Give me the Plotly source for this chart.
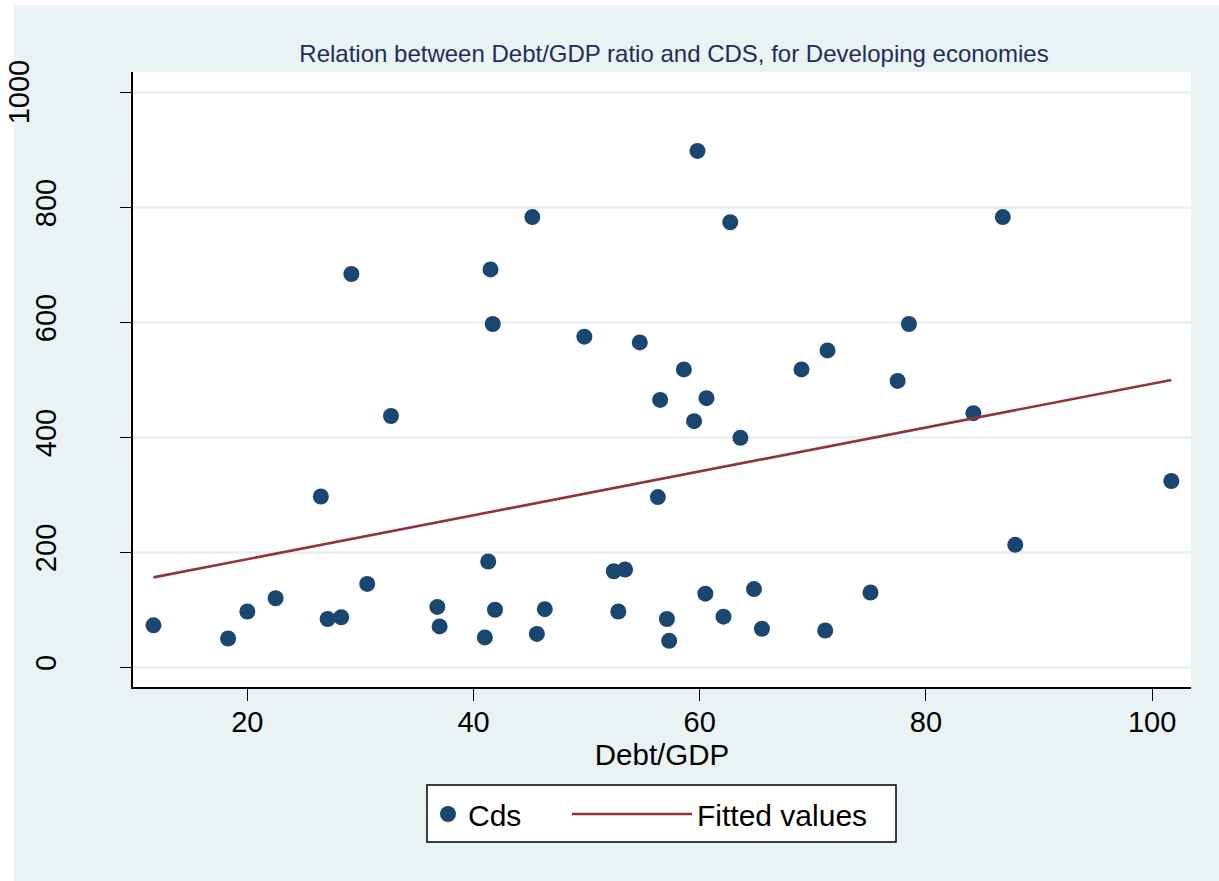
import numpy as np
import plotly.graph_objects as go

# Debt/GDP ratio (%) and CDS spread for developing economies
debt_gdp = [11.7, 18.3, 20.0, 22.5, 26.5, 27.1, 28.3, 29.2, 30.6, 32.7,
            36.8, 37.0, 41.0, 41.3, 41.5, 41.7, 41.9, 45.2, 45.6, 46.3,
            49.8, 52.4, 52.8, 53.4, 54.7, 56.5, 56.3, 57.1, 57.3, 58.6,
            59.5, 59.8, 60.6, 60.5, 62.1, 62.7, 63.6, 64.8, 65.5, 69.0,
            71.1, 71.3, 75.1, 77.5, 78.5, 84.2, 86.8, 87.9, 101.7]
cds = [73, 50, 97, 120, 297, 84, 87, 684, 145, 437,
       105, 71, 52, 184, 692, 597, 100, 783, 58, 101,
       575, 167, 97, 170, 565, 465, 296, 84, 46, 518,
       428, 898, 468, 128, 88, 774, 399, 136, 67, 518,
       64, 551, 130, 498, 597, 442, 783, 213, 324]

x_ticks = [20, 40, 60, 80, 100]
y_ticks = [0, 200, 400, 600, 800, 1000]

# Linear fit (OLS) of CDS on Debt/GDP
slope, intercept = np.polyfit(debt_gdp, cds, 1)
fit_x = [min(debt_gdp), max(debt_gdp)]
fit_y = [intercept + slope * v for v in fit_x]

BG = "#EAF2F3"
NAVY = "#1A476F"
MAROON = "#90353B"
FONT = "Liberation Sans, Arial, sans-serif"

W, H = 1219, 881
ML, MR, MT, MB = 133, 28, 72, 194
PW, PH = W - ML - MR, H - MT - MB


def px_x(p):
    return (p - ML) / PW


def px_y(p):
    return (H - MB - p) / PH


fig = go.Figure()
fig.add_trace(go.Scatter(
    x=debt_gdp, y=cds, mode="markers", name="Cds",
    marker=dict(color=NAVY, size=16, line=dict(width=0)),
    legend="legend",
))
fig.add_trace(go.Scatter(
    x=fit_x, y=fit_y, mode="lines", name="Fitted values",
    line=dict(color=MAROON, width=2.6),
    legend="legend2",
))

# white frame strips along the top and left edges of the page
fig.add_shape(type="rect", xref="paper", yref="paper",
              x0=px_x(0), x1=px_x(14), y0=px_y(H), y1=px_y(0),
              fillcolor="white", line=dict(width=0), layer="below")
fig.add_shape(type="rect", xref="paper", yref="paper",
              x0=px_x(0), x1=px_x(W), y0=px_y(5), y1=px_y(0),
              fillcolor="white", line=dict(width=0), layer="below")

# frame around the two legend entries
fig.add_shape(type="rect", xref="paper", yref="paper",
              x0=px_x(427), x1=px_x(896), y0=px_y(842), y1=px_y(785),
              fillcolor="white", line=dict(color="black", width=1.5),
              layer="below")

# top y label sits further left than the others
fig.add_annotation(x=0, xref="paper", y=1000, yref="y", xshift=-132,
                   text="1000", showarrow=False, textangle=-90,
                   font=dict(family=FONT, size=29, color="black"))

legend_common = dict(orientation="h", yanchor="middle", y=px_y(814),
                     xanchor="left", bgcolor="rgba(0,0,0,0)", borderwidth=0,
                     font=dict(family=FONT, size=30, color="black"))

fig.update_layout(
    width=W, height=H,
    margin=dict(l=ML, r=MR, t=MT, b=MB),
    paper_bgcolor=BG, plot_bgcolor="white",
    font=dict(family=FONT, color="black"),
    title=dict(text="Relation between Debt/GDP ratio and CDS, for Developing economies",
               xref="container", x=674 / W, xanchor="center",
               yref="container", y=1 - 54 / H, yanchor="middle",
               font=dict(family=FONT, size=24, color="#1F2D5C")),
    showlegend=True,
    legend=dict(x=px_x(428), itemwidth=30, **legend_common),
    legend2=dict(x=px_x(567), itemwidth=120, **legend_common),
    xaxis=dict(range=[9.89, 103.44], tickvals=x_ticks,
               showgrid=False, zeroline=False,
               showline=True, linecolor="black", linewidth=1.5,
               ticks="outside", ticklen=12, tickcolor="black", tickwidth=1,
               ticklabelstandoff=-4,
               tickfont=dict(family=FONT, size=29, color="black"),
               title=dict(text="Debt/GDP", standoff=0,
                          font=dict(family=FONT, size=29.5, color="black"))),
    yaxis=dict(range=[-34.3, 1035.3], tickvals=y_ticks,
               ticktext=["0", "200", "400", "600", "800", ""],
               showgrid=True, gridcolor=BG, gridwidth=3, zeroline=False,
               showline=True, linecolor="black", linewidth=1.5,
               ticks="outside", ticklen=11, tickcolor="black", tickwidth=1,
               tickangle=-90, ticklabelstandoff=53,
               tickfont=dict(family=FONT, size=29, color="black")),
)

fig.write_html("out.html")
